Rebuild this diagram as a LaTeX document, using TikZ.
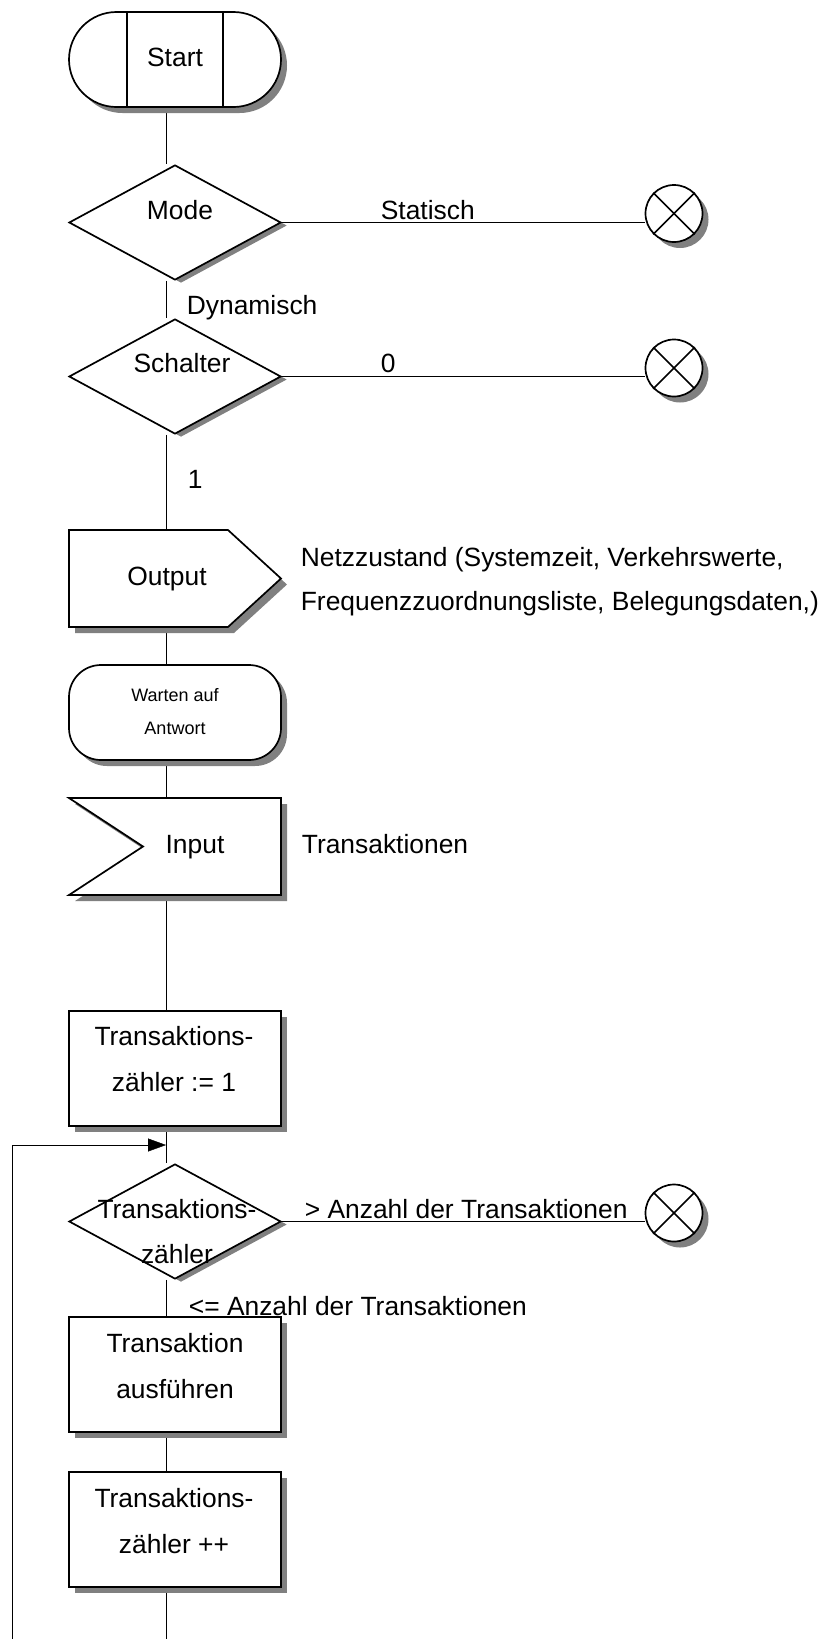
\documentclass[tikz,border=0pt]{standalone}
\usepackage{fontspec}
\setmainfont{Liberation Sans}
\usetikzlibrary{shapes.geometric, shadows, arrows.meta, backgrounds}

\definecolor{shadowgray}{RGB}{128,128,128}

% two stacked lines of text; the node's baseline is that of the first line
\newcommand\twolines[3][c]{\begin{tabular}[t]{@{}#1@{}}#2\\#3\end{tabular}}

\tikzset{
  sh/.style={drop shadow={shadow xshift=6pt, shadow yshift=-6pt, fill=shadowgray, opacity=1}},
  flatsh/.style={drop shadow={shadow xshift=6pt, shadow yshift=-3pt, fill=shadowgray, opacity=1}},
  flowshape/.style={draw, fill=white, sh, inner sep=0pt},
  startshape/.style={flowshape, rectangle, rounded corners=47.5pt, minimum width=212pt, minimum height=95pt},
  waitshape/.style={flowshape, rectangle, rounded corners=32pt, minimum width=212pt, minimum height=95pt},
  procbox/.style={flowshape, rectangle, minimum width=212pt, minimum height=115pt},
  decision/.style={draw, fill=white, flatsh, inner sep=0pt, diamond, minimum width=212pt, minimum height=115pt},
  endpoint/.style={flowshape, circle, minimum size=57pt},
  anchorbox/.style={rectangle, inner sep=0pt, minimum width=212pt, minimum height=97pt},
  txt/.style={inner sep=0pt, anchor=base, font=\fontsize{26.4}{46.5}\selectfont},
  ltxt/.style={txt, anchor=base west},
  smalltxt/.style={inner sep=0pt, anchor=base, font=\fontsize{18}{33}\selectfont},
  loopArrow/.style={-{Triangle[length=18pt,width=13pt]}},
}

\begin{document}
\begin{tikzpicture}[x=1pt, y=-1pt, line width=1.7pt]
\useasboundingbox (0,0) rectangle (824,1639);

% Start terminator with its two inner bars
\node[startshape] (start) at (175,59.5) {};
\draw ([xshift=-48pt]start.north) -- ([xshift=-48pt]start.south);
\draw ([xshift=48pt]start.north) -- ([xshift=48pt]start.south);
\node[txt] (tstart) at (175,66) {Start};

% Mode decision
\node[decision] (mode) at (175,222.5) {};
\node[txt] (tmode) at (180,219.5) {Mode};
\node[ltxt] (tstat) at (380,219.5) {Statisch};
\node[endpoint] (end1) at (674,213.5) {};
\draw (end1.north west) -- (end1.south east);
\draw (end1.north east) -- (end1.south west);
\node[ltxt] (tdyn) at (186,314) {Dynamisch};

% Schalter decision
\node[decision] (sw) at (175,376.5) {};
\node[txt] (tsw) at (182,372.5) {Schalter};
\node[ltxt] (tzero) at (380,372.5) {0};
\node[endpoint] (end2) at (674,368) {};
\draw (end2.north west) -- (end2.south east);
\draw (end2.north east) -- (end2.south west);
\node[ltxt] (tone) at (187,488) {1};

% Output signal
\draw[fill=white, sh] (69,530) -- (228,530) -- (281,578.5) -- (228,627) -- (69,627) -- cycle;
\node[anchorbox] (output) at (175,578.5) {};
\node[txt] (toutput) at (167,585) {Output};
\node[ltxt, font=\fontsize{26.4}{44.5}\selectfont] (tnetz) at (300,566)
  {\twolines[l]{Netzzustand (Systemzeit, Verkehrswerte,}{Frequenzzuordnungsliste, Belegungsdaten,)}};

% Waiting state
\node[waitshape] (wait) at (175,712.5) {};
\node[smalltxt] (twait) at (175,701.5) {\twolines{Warten auf}{Antwort}};

% Input signal
\draw[fill=white, sh] (69,798) -- (281,798) -- (281,895) -- (69,895) -- (143,846.5) -- cycle;
\node[anchorbox] (input) at (175,846.5) {};
\node[txt] (tinput) at (195,853) {Input};
\node[ltxt] (ttrans) at (301,853) {Transaktionen};

% Counter initialisation
\node[procbox] (init) at (175,1068.5) {};
\node[txt] (tinit) at (174,1045) {\twolines{Transaktions-}{zähler := 1}};

% Loop test
\node[decision] (cmp) at (175,1221.5) {};
\node[txt, font=\fontsize{26.4}{45}\selectfont] (tcmp) at (177,1218) {\twolines{Transaktions-}{zähler}};
\node[ltxt] (tgt) at (304,1218) {> Anzahl der Transaktionen};
\node[endpoint] (end3) at (674,1213) {};
\draw (end3.north west) -- (end3.south east);
\draw (end3.north east) -- (end3.south west);
\node[ltxt] (tle) at (188,1315) {<= Anzahl der Transaktionen};

% Loop body
\node[procbox] (exec) at (175,1374.5) {};
\node[txt] (texec) at (175,1352) {\twolines{Transaktion}{ausführen}};
\node[procbox] (incr) at (175,1529.5) {};
\node[txt] (tincr) at (174,1507) {\twolines{Transaktions-}{zähler ++}};

\coordinate (join) at (166,1145);
\coordinate (loopstart) at (12,1639);
\coordinate (mainend) at (166,1639);

% Connectors, kept behind the shapes
\begin{pgfonlayer}{background}
\draw ([xshift=-9pt]start.south) -- ([xshift=-9pt]mode.north);
\draw (mode.east) -- (mode.east -| end1.west);
\draw ([xshift=-9pt]mode.south) -- ([xshift=-9pt]sw.north);
\draw (sw.east) -- (sw.east -| end2.west);
\draw ([xshift=-9pt]sw.south) -- ([xshift=-9pt]output.north);
\draw ([xshift=-9pt]output.south) -- ([xshift=-9pt]wait.north);
\draw ([xshift=-9pt]wait.south) -- ([xshift=-9pt]input.north);
\draw ([xshift=-9pt]input.south) -- ([xshift=-9pt]init.north);
\draw ([xshift=-9pt]init.south) -- ([xshift=-9pt]cmp.north);
\draw[loopArrow] (loopstart) |- (join);
\draw (cmp.east) -- (cmp.east -| end3.west);
\draw ([xshift=-9pt]cmp.south) -- ([xshift=-9pt]exec.north);
\draw ([xshift=-9pt]exec.south) -- ([xshift=-9pt]incr.north);
\draw ([xshift=-9pt]incr.south) -- (mainend);
\end{pgfonlayer}
\end{tikzpicture}
\end{document}
